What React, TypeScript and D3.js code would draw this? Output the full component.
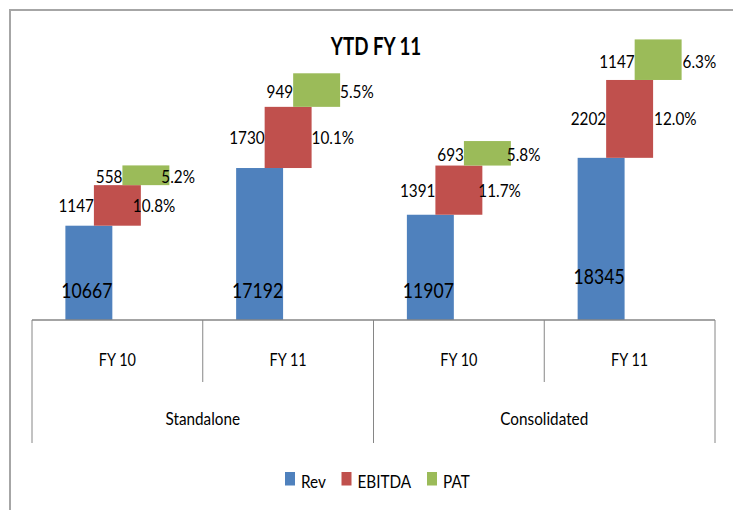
import * as d3 from "d3";

// chart data
const groups = ["Standalone", "Consolidated"];
const years = ["FY 10", "FY 11", "FY 10", "FY 11"];
const rev = [10667, 17192, 11907, 18345];
const ebitda = [1147, 1730, 1391, 2202];
const pat = [558, 949, 693, 1147];
const ebitdaPct = ["10.8%", "10.1%", "11.7%", "12.0%"];
const patPct = ["5.2%", "5.5%", "5.8%", "6.3%"];
const seriesNames = ["Rev", "EBITDA", "PAT"];
const colors = ["#4f81bd", "#c0504d", "#9bbb59"];
// EBITDA and PAT were drawn blown up 4x in the original so they stay visible
const smallScale = 4;

// small label nudges seen in the original (hand-placed text boxes)
const pctNudge = [-8, 0, -4, 1];
const revLabelY = [298, 298, 298, 284];

const W = 733;
const H = 510;
const font = "Lato, 'Liberation Sans', sans-serif";

// the original text is a narrow face, so squeeze a regular one horizontally
const T = ({ x, y, anchor = "start", size, bold = false, sx = 0.85, children }: any) => (
  <text
    transform={`translate(${x},${y}) scale(${sx},1)`}
    textAnchor={anchor}
    fontSize={size}
    fontWeight={bold ? "bold" : "normal"}
    fill="#000"
  >
    {children}
  </text>
);

const App = () => {
  const x = d3.scaleBand<number>().domain(d3.range(years.length)).range([32, 715]).padding(0);
  const y = d3.scaleLinear().domain([0, 35000]).range([320, 10.6]);
  const bw = x.bandwidth() * 0.275;
  const shift = x.bandwidth() * 0.167;

  const groupX = d3.scaleBand<number>().domain(d3.range(groups.length)).range([32, 715]);

  const rows = years.map((yr, i) => {
    const c = x(i)! + x.bandwidth() / 2;
    const r1 = rev[i];
    const e1 = r1 + ebitda[i] * smallScale;
    const p1 = e1 + pat[i] * smallScale;
    return { i, c, r1, e1, p1 };
  });

  return (
    <svg width={W} height={H} style={{ position: "absolute", left: 0, top: 0 }} fontFamily={font}>
      <rect x={0} y={0} width={W} height={H} fill="#fff" />
      <rect x={10} y={10} width={900} height={700} fill="none" stroke="#a6a6a6" strokeWidth={2} />

      <T x={376} y={55} anchor="middle" size={25} bold sx={0.75}>
        YTD FY 11
      </T>

      {rows.map((d) => {
        const revX = d.c - shift - bw / 2;
        const ebX = d.c - bw / 2;
        const patX = d.c + shift - bw / 2;
        const ebMid = (y(d.r1) + y(d.e1)) / 2;
        const patMid = (y(d.e1) + y(d.p1)) / 2;
        return (
          <g key={d.i}>
            <rect x={revX} y={y(d.r1)} width={bw} height={y(0) - y(d.r1)} fill={colors[0]} />
            <rect x={ebX} y={y(d.e1)} width={bw} height={y(d.r1) - y(d.e1)} fill={colors[1]} />
            <rect x={patX} y={y(d.p1)} width={bw} height={y(d.e1) - y(d.p1)} fill={colors[2]} />

            <T x={revX + bw / 2 - 2} y={revLabelY[d.i]} anchor="middle" size={22} sx={0.8}>
              {rev[d.i]}
            </T>
            <T x={ebX} y={ebMid + 6.5} anchor="end" size={18}>
              {ebitda[d.i]}
            </T>
            <T x={ebX + bw + pctNudge[d.i]} y={ebMid + 6.5} size={18}>
              {ebitdaPct[d.i]}
            </T>
            <T x={patX} y={patMid + 8} anchor="end" size={18}>
              {pat[d.i]}
            </T>
            <T x={patX + bw + pctNudge[d.i]} y={patMid + 8} size={18}>
              {patPct[d.i]}
            </T>
          </g>
        );
      })}

      {/* category axis */}
      <line x1={32} x2={715} y1={320} y2={320} stroke="#868686" strokeWidth={1.5} />
      {d3.range(years.length + 1).map((k) => {
        const xx = k < years.length ? x(k)! : 715;
        const outer = k % 2 === 0;
        return (
          <line key={k} x1={xx} x2={xx} y1={320} y2={outer ? 443 : 382} stroke="#868686" strokeWidth={1} />
        );
      })}
      {years.map((yr, i) => (
        <T key={i} x={x(i)! + x.bandwidth() / 2} y={366} anchor="middle" size={17}>
          {yr}
        </T>
      ))}
      {groups.map((g, i) => (
        <T key={g} x={groupX(i)! + groupX.bandwidth() / 2} y={425} anchor="middle" size={18}>
          {g}
        </T>
      ))}

      {/* legend */}
      {seriesNames.map((s, i) => {
        const lx = [285, 341.5, 427][i];
        return (
          <g key={s}>
            <rect x={lx} y={472} width={10} height={13.5} fill={colors[i]} />
            <T x={lx + 16} y={488} size={18}>
              {s}
            </T>
          </g>
        );
      })}
    </svg>
  );
};

export default App;
